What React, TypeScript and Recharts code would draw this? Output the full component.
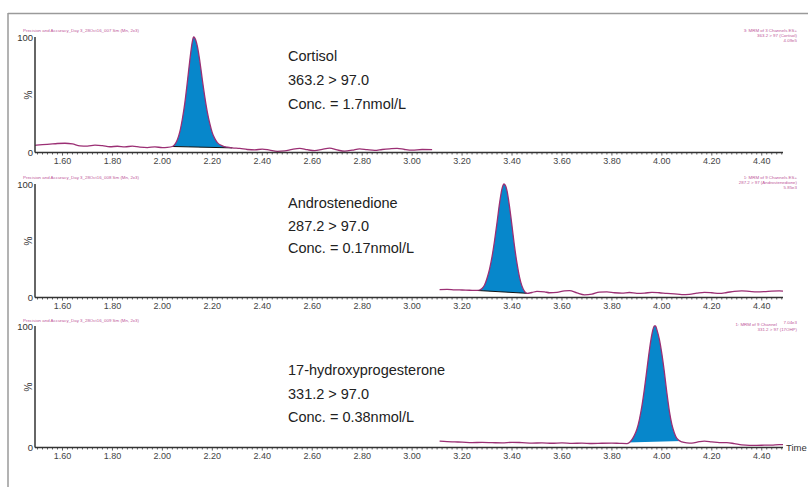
import { ComposedChart, Line, Area, XAxis, YAxis } from 'recharts'

// Chromatogram traces, relative intensity (%) against retention time (min)
const cortisolTime = [
  1.49, 1.52, 1.55, 1.58, 1.61, 1.64, 1.67, 1.7, 1.73, 1.76, 1.79, 1.82, 1.85, 1.88, 1.91, 1.94, 1.97, 2.0,
  2.02, 2.04, 2.05, 2.06, 2.07, 2.08, 2.09, 2.1, 2.11, 2.12, 2.125, 2.13, 2.14, 2.15, 2.16, 2.17, 2.18, 2.19,
  2.2, 2.21, 2.22, 2.24, 2.26, 2.28, 2.31, 2.34, 2.37, 2.4, 2.43, 2.46, 2.49, 2.52, 2.55, 2.58, 2.61, 2.64,
  2.67, 2.7, 2.73, 2.76, 2.79, 2.82, 2.85, 2.88, 2.91, 2.94, 2.97, 3.0, 3.04, 3.08,
]
const cortisolSignal = [
  6.2, 6.8, 7.3, 7.8, 8.0, 7.4, 5.8, 5.6, 6.4, 5.9, 5.0, 5.4, 4.8, 5.6, 4.7, 4.3, 4.9, 4.2,
  4.4, 5.2, 7.0, 11, 18, 29, 43, 61, 80, 96, 100, 99, 92, 79, 63, 48, 35, 25,
  17, 12, 8.5, 5.8, 4.6, 4.0, 3.5, 2.6, 2.2, 3.0, 2.0, 1.0, 1.4, 2.8, 3.6, 2.4, 1.6, 2.8,
  3.8, 2.2, 1.2, 2.0, 3.2, 2.4, 1.8, 2.6, 3.2, 3.6, 2.6, 2.0, 2.6, 2.4,
]
const cortisolPeak: [number, number] = [2.04, 2.28]

const androTime = [
  3.11, 3.14, 3.17, 3.2, 3.23, 3.26, 3.27, 3.28, 3.29, 3.3, 3.31, 3.32, 3.33, 3.34, 3.35, 3.36, 3.368, 3.375,
  3.38, 3.39, 3.4, 3.41, 3.42, 3.43, 3.44, 3.45, 3.46, 3.48, 3.5, 3.53, 3.55, 3.58, 3.61, 3.63, 3.66, 3.69,
  3.72, 3.75, 3.78, 3.81, 3.84, 3.87, 3.9, 3.93, 3.96, 3.99, 4.02, 4.05, 4.08, 4.11, 4.14, 4.17, 4.2, 4.23,
  4.26, 4.29, 4.32, 4.35, 4.38, 4.41, 4.44, 4.47, 4.485,
]
const androSignal = [
  7.0, 7.2, 6.8, 6.6, 6.4, 6.2, 6.6, 8.0, 11, 17, 25, 36, 50, 66, 83, 96, 100, 98,
  94, 80, 63, 45, 30, 18, 10, 5.5, 3.7, 4.4, 5.4, 5.0, 4.2, 4.6, 5.8, 6.0, 4.0, 2.4,
  3.0, 4.8, 5.0, 4.2, 3.8, 4.4, 3.6, 3.8, 4.6, 4.2, 3.6, 3.2, 2.6, 2.8, 3.8, 4.6, 4.2, 3.6,
  4.4, 5.4, 5.8, 5.4, 5.0, 5.2, 5.6, 5.8, 5.6,
]
const androPeak: [number, number] = [3.26, 3.46]

const ohpTime = [
  3.11, 3.14, 3.17, 3.2, 3.24, 3.28, 3.32, 3.36, 3.4, 3.44, 3.48, 3.52, 3.56, 3.6, 3.64, 3.68, 3.72, 3.76,
  3.8, 3.83, 3.86, 3.87, 3.88, 3.89, 3.9, 3.91, 3.92, 3.93, 3.94, 3.95, 3.96, 3.97, 3.975, 3.98, 3.99, 4.0,
  4.01, 4.02, 4.03, 4.04, 4.05, 4.06, 4.08, 4.1, 4.12, 4.15, 4.17, 4.2, 4.23, 4.26, 4.29, 4.32, 4.35, 4.38,
  4.41, 4.44, 4.47, 4.485,
]
const ohpSignal = [
  5.2, 4.8, 4.6, 4.4, 4.0, 4.2, 4.0, 3.8, 4.3, 4.0, 3.6, 3.8, 3.5, 3.8, 3.4, 3.6, 3.3, 3.5,
  3.6, 3.4, 3.2, 4.2, 6.5, 10, 15, 23, 34, 48, 64, 80, 93, 100, 100, 97, 89, 77,
  62, 45, 30, 19, 12, 7.5, 4.6, 3.8, 3.6, 4.8, 5.2, 4.6, 4.0, 4.0, 3.2, 2.2, 1.8, 1.8,
  1.9, 2.0, 2.4, 2.4,
]
const ohpPeak: [number, number] = [3.86, 4.08]

const majorTicks = [1.6, 1.8, 2.0, 2.2, 2.4, 2.6, 2.8, 3.0, 3.2, 3.4, 3.6, 3.8, 4.0, 4.2, 4.4]
const tickLabels = ['1.60', '1.80', '2.00', '2.20', '2.40', '2.60', '2.80', '3.00', '3.20', '3.40', '3.60', '3.80', '4.00', '4.20', '4.40']
const minorTicks = Array.from({ length: 150 }, (_, i) => +(1.5 + i * 0.02).toFixed(2))

const X_DOMAIN: [number, number] = [1.49, 4.485]
const FONT = '"Liberation Sans", Arial, sans-serif'
const TRACE = '#9B2F74'
const PEAK_FILL = '#0787CB'
const HEADER = '#C0579A'

function buildRows(time: number[], signal: number[], peak: [number, number]) {
  const i0 = time.indexOf(peak[0])
  const i1 = time.indexOf(peak[1])
  const b0 = signal[i0]
  const b1 = signal[i1]
  return time.map((t, i) => {
    const inPeak = i >= i0 && i <= i1
    const base = b0 + ((b1 - b0) * (t - peak[0])) / (peak[1] - peak[0])
    return {
      t,
      signal: signal[i],
      fill: inPeak ? [base, signal[i]] : null,
      integ: i === i0 ? b0 : i === i1 ? b1 : null,
    }
  })
}

function TimeTick({ x, y, payload }: any) {
  const idx = majorTicks.findIndex((m) => Math.abs(m - payload.value) < 1e-6)
  return (
    <g>
      <line x1={x} x2={x} y1={y} y2={y + (idx >= 0 ? 3 : 2)} stroke="#333" strokeWidth={0.8} />
      {idx >= 0 && (
        <text x={x} y={y + 11} textAnchor="middle" fontSize={9} fill="#444" fontFamily={FONT}>
          {tickLabels[idx]}
        </text>
      )}
    </g>
  )
}

interface PanelProps {
  top: number
  plotHeight: number
  rows: ReturnType<typeof buildRows>
  baselineColor: string
}

function Panel({ top, plotHeight, rows, baselineColor }: PanelProps) {
  const mTop = 4
  return (
    <div style={{ position: 'absolute', left: 0, top: top - mTop }}>
      <ComposedChart
        width={808}
        height={plotHeight + mTop + 20}
        data={rows}
        margin={{ top: mTop, right: 25, bottom: 0, left: 0 }}
      >
        <XAxis
          dataKey="t"
          type="number"
          domain={X_DOMAIN}
          allowDataOverflow
          ticks={minorTicks}
          interval={0}
          tick={<TimeTick />}
          tickLine={false}
          tickSize={0}
          tickMargin={0}
          height={20}
          axisLine={{ stroke: '#333', strokeWidth: 1.3 }}
        />
        <YAxis
          type="number"
          domain={[0, 100]}
          ticks={[0, 100]}
          width={35}
          tickLine={false}
          tickSize={0}
          tickMargin={2}
          tick={{ fontSize: 9.5, fill: '#333', fontFamily: FONT }}
          axisLine={{ stroke: '#333', strokeWidth: 1.5 }}
        />
        <Area
          dataKey="fill"
          type="monotone"
          stroke="none"
          fill={PEAK_FILL}
          fillOpacity={1}
          isAnimationActive={false}
        />
        <Line
          dataKey="integ"
          type="linear"
          stroke={baselineColor}
          strokeWidth={baselineColor === '#ffffff' ? 2 : 1}
          dot={false}
          activeDot={false}
          connectNulls
          isAnimationActive={false}
        />
        <Line
          dataKey="signal"
          type="monotone"
          stroke={TRACE}
          strokeWidth={1.3}
          dot={false}
          activeDot={false}
          isAnimationActive={false}
        />
      </ComposedChart>
    </div>
  )
}

const leftHeaders = [
  'Precision and Accuracy_Day 3_28Oct16_007 Sm (Mn, 2x3)',
  'Precision and Accuracy_Day 3_28Oct16_008 Sm (Mn, 2x3)',
  'Precision and Accuracy_Day 3_28Oct16_009 Sm (Mn, 2x3)',
]

export default function App() {
  const small = { fontSize: 4.4, fill: HEADER, fontFamily: FONT }
  const big = { fontSize: 14.5, fill: '#222', fontFamily: FONT }
  return (
    <div style={{ position: 'absolute', left: 0, top: 0, width: 808, height: 487, background: '#fff' }}>
      <Panel top={37} plotHeight={115.5} rows={buildRows(cortisolTime, cortisolSignal, cortisolPeak)} baselineColor="#111" />
      <Panel top={184} plotHeight={113.5} rows={buildRows(androTime, androSignal, androPeak)} baselineColor="#111" />
      <Panel top={326} plotHeight={121.5} rows={buildRows(ohpTime, ohpSignal, ohpPeak)} baselineColor="#ffffff" />
      <svg width={808} height={487} style={{ position: 'absolute', left: 0, top: 0, pointerEvents: 'none' }}>
        <line x1={8} x2={808} y1={13.5} y2={13.5} stroke="#9a9a9a" strokeWidth={1.5} />
        <line x1={8} x2={8} y1={13} y2={487} stroke="#9a9a9a" strokeWidth={1.5} />

        <text x={23} y={32} {...small}>{leftHeaders[0]}</text>
        <text x={23} y={178.5} {...small}>{leftHeaders[1]}</text>
        <text x={23} y={322} {...small}>{leftHeaders[2]}</text>

        <text x={797} y={31.5} textAnchor="end" {...small}>3: MRM of 3 Channels ES+</text>
        <text x={797} y={36.5} textAnchor="end" {...small}>363.2 &gt; 97 (Cortisol)</text>
        <text x={797} y={41.5} textAnchor="end" {...small}>4.09e5</text>

        <text x={797} y={178.5} textAnchor="end" {...small}>1: MRM of 9 Channels ES+</text>
        <text x={797} y={183.5} textAnchor="end" {...small}>287.2 &gt; 97 (Androstenedione)</text>
        <text x={797} y={188.5} textAnchor="end" {...small}>5.85e3</text>

        <text x={777} y={325.5} textAnchor="end" {...small}>1: MRM of 9 Channel</text>
        <text x={797} y={323.5} textAnchor="end" {...small}>7.04e3</text>
        <text x={797} y={331} textAnchor="end" {...small}>331.2 &gt; 97 (17OHP)</text>

        <text x={288} y={61} {...big}>Cortisol</text>
        <text x={288} y={85} {...big}>363.2 &gt; 97.0</text>
        <text x={288} y={109} {...big}>Conc. = 1.7nmol/L</text>

        <text x={288} y={208} {...big}>Androstenedione</text>
        <text x={288} y={231} {...big}>287.2 &gt; 97.0</text>
        <text x={288} y={253} {...big}>Conc. = 0.17nmol/L</text>

        <text x={288} y={375} {...big}>17-hydroxyprogesterone</text>
        <text x={288} y={399} {...big}>331.2 &gt; 97.0</text>
        <text x={288} y={422} {...big}>Conc. = 0.38nmol/L</text>

        {[95, 241, 387].map((cy) => (
          <text key={cy} x={0} y={0} transform={`translate(32 ${cy}) rotate(-90)`} textAnchor="middle" fontSize={10} fill="#333" fontFamily={FONT}>
            %
          </text>
        ))}
        <text x={786} y={451} fontSize={9.5} fill="#333" fontFamily={FONT}>Time</text>
      </svg>
    </div>
  )
}
